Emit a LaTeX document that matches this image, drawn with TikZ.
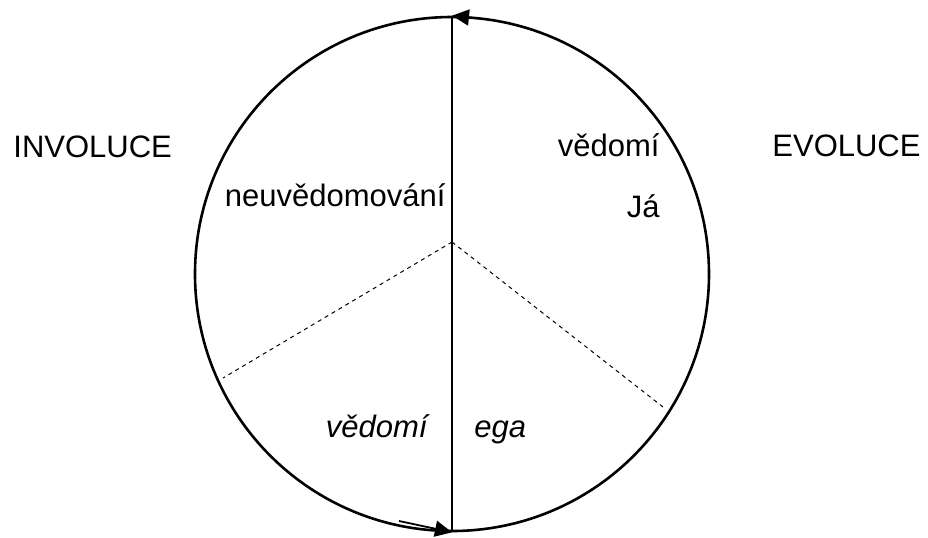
\documentclass[tikz,border=0pt]{standalone}
\usepackage{fontspec}
\setmainfont{Liberation Sans}
\usepackage{tikz}
\usetikzlibrary{arrows.meta, positioning}
\tikzset{
  wheel/.style   = {circle, draw, line width=1.3pt, minimum size=257pt, inner sep=0pt},
  axis/.style    = {line width=0.9pt},
  sector/.style  = {line width=0.5pt, dash pattern=on 2pt off 2pt},
  turn/.style    = {line width=0.9pt, -{Triangle[length=8.5pt, width=8pt]}},
  word/.style    = {inner sep=0pt, font=\fontsize{15.5}{18}\selectfont},
  iword/.style   = {word, font=\fontsize{15.5}{18}\selectfont\itshape},
}

\begin{document}
\begin{tikzpicture}[x=0.5pt, y=-0.5pt]
  \useasboundingbox (0,0) rectangle (928,537);
  % ---- circle and axis
  \node[wheel] (w) at (452,274) {};
  \draw[axis] (w.north) -- (w.south);
  % ---- sectors
  \coordinate (hub) at (452,242);
  \coordinate (lend) at (223,378);
  \coordinate (rend) at (663,407);
  \draw[sector] (hub) -- (lend);
  \draw[sector] (hub) -- (rend);
  % ---- direction arrows
  \coordinate (tstart) at (479,18.5);
  \coordinate (bstart) at (399,521);
  \draw[turn] (tstart) -- (w.north);
  \draw[turn] (bstart) -- (w.south);
  % ---- labels
  \node[word, anchor=base west] (involuce) at (13,157) {INVOLUCE};
  \node[word, anchor=base west] (evoluce) at (772,156) {EVOLUCE};
  \node[word, anchor=base east] (vedomi) at (660,156) {vědomí};
  \node[word, anchor=base east] (ja) at (660,217) {Já};
  \node[word, anchor=base east] (neuved) at (446,206) {neuvědomování};
  \node[iword, anchor=base east] (vedomiego) at (428,437) {vědomí};
  \node[iword, anchor=base west] (ega) at (474,437) {ega};
\end{tikzpicture}
\end{document}
